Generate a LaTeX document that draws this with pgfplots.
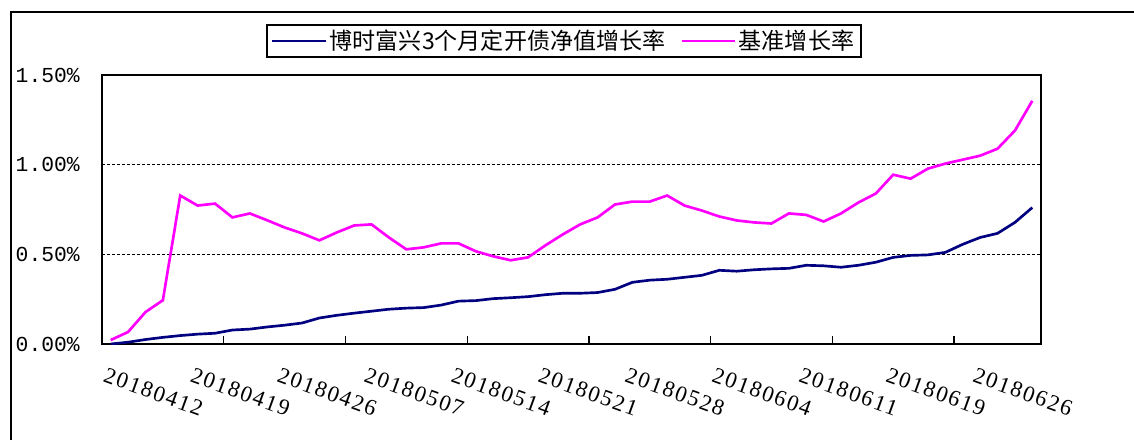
\documentclass[border=0pt]{standalone}
\usepackage{fontspec}
\setmainfont{Liberation Serif}
\newfontfamily\cjk{Noto Sans CJK SC}
\newfontfamily\datefont[LetterSpace=8]{Liberation Serif}
\newfontfamily\pctfont{Liberation Mono}
\usepackage{pgfplots}
\pgfplotsset{compat=1.18}
\usepackage{pgfplotstable}
\definecolor{fundnavy}{RGB}{0,0,128}
\definecolor{benchpink}{RGB}{255,0,255}

% growth rates in %, one row per trading day (20180412 .. 20180629)
\pgfplotstableread{
idx fund bench
0  0.000 0.022
1  0.010 0.067
2  0.025 0.178
3  0.037 0.244
4  0.047 0.828
5  0.055 0.772
6  0.060 0.783
7  0.078 0.706
8  0.083 0.728
9  0.095 0.690
10 0.105 0.650
11 0.117 0.617
12 0.145 0.578
13 0.160 0.622
14 0.172 0.661
15 0.183 0.667
16 0.194 0.594
17 0.200 0.528
18 0.203 0.539
19 0.217 0.561
20 0.239 0.561
21 0.242 0.517
22 0.253 0.489
23 0.258 0.467
24 0.264 0.483
25 0.275 0.550
26 0.283 0.611
27 0.283 0.667
28 0.287 0.706
29 0.305 0.778
30 0.344 0.794
31 0.356 0.794
32 0.361 0.828
33 0.372 0.772
34 0.383 0.744
35 0.411 0.711
36 0.406 0.689
37 0.414 0.678
38 0.419 0.672
39 0.422 0.728
40 0.439 0.720
41 0.436 0.683
42 0.428 0.728
43 0.439 0.789
44 0.456 0.839
45 0.483 0.944
46 0.494 0.922
47 0.497 0.978
48 0.511 1.006
49 0.556 1.028
50 0.594 1.050
51 0.617 1.089
52 0.678 1.190
53 0.761 1.356
}\growth

\begin{document}
\begin{tikzpicture}
\useasboundingbox (0,0) rectangle (850.5pt,-329.25pt);
\draw[line width=1.5pt] (8.25pt,-340pt) -- (8.25pt,-9pt) -- (860pt,-9pt);
\begin{axis}[
    at={(76.5pt,-258pt)}, anchor=south west,
    scale only axis,
    width=704.25pt, height=201.75pt,
    xmin=-0.5, xmax=53.5,
    ymin=0, ymax=1.5,
    axis line style={line width=1.2pt},
    xtick pos=left, ytick pos=left,
    xtick={0,5,...,50},
    xticklabels={20180412,20180419,20180426,20180507,20180514,20180521,20180528,20180604,20180611,20180619,20180626},
    xticklabel style={font=\datefont\fontsize{17}{17}\selectfont, rotate=-20, anchor=north west, inner sep=0pt, yshift=-17pt, xshift=3.5pt},
    major tick length=0pt,
    extra x ticks={6.5,13.5,...,48.5},
    extra x tick labels={},
    extra x tick style={tick align=inside, major tick length=6pt, major tick style={draw=black, line width=1pt}},
    ytick={0,0.5,1,1.5},
    yticklabels={0.00\%,0.50\%,1.00\%,\raisebox{-7.5pt}{1.50\%}},
    yticklabel style={font=\pctfont\fontsize{16}{16}\selectfont, anchor=east, inner sep=0pt, xshift=-16.5pt},
    extra y ticks={0.5,1},
    extra y tick labels={},
    extra y tick style={grid=major, major tick length=0pt},
    major grid style={black, line width=0.75pt, dash pattern=on 2.25pt off 1.5pt},
    legend style={at={(0.492,1.126)}, anchor=center, draw=black, line width=1.2pt,
        legend columns=2, font=\cjk\fontsize{17.3}{20}\selectfont,
        inner xsep=3pt, inner ysep=2pt,
        /tikz/every even column/.append style={column sep=9pt}},
    legend image code/.code={\draw[#1] plot coordinates {(0pt,0pt) (40pt,0pt)};},
]
\addplot[fundnavy, line width=2pt] table[x=idx, y=fund] {\growth};
\addplot[benchpink, line width=2pt] table[x=idx, y=bench] {\growth};
\legend{博时富兴3个月定开债净值增长率,基准增长率}
\end{axis}
\end{tikzpicture}
\end{document}
